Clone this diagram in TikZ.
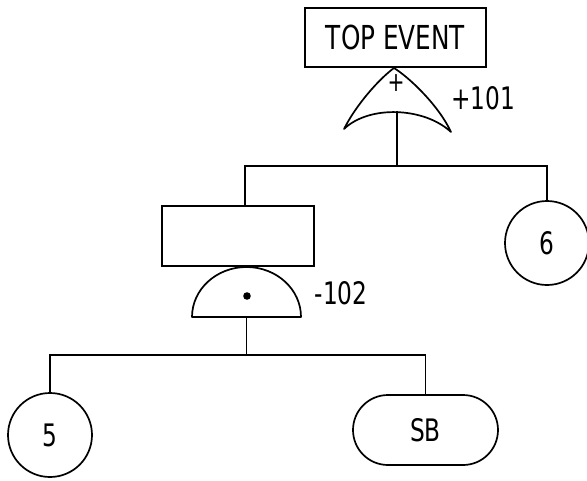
\documentclass[tikz,border=0pt]{standalone}
\usepackage{fontspec}
\setmainfont[FakeStretch=0.75]{DejaVu Sans}
\usetikzlibrary{calc}

\tikzset{
  orgate/.pic={
    \draw[gateline] (0,0) .. controls (-15,11) and (-38,37) .. (-50,61)
      .. controls (-25,37) and (30,39) .. (57,64)
      .. controls (45,38) and (16,10) .. (0,0);
    \node[font=\fontsize{27}{30}\selectfont] at (2,15) {+};
    \coordinate (-out) at (3,43);
  },
  andgate/.pic={
    \draw[gateline] (-54.5,0) arc[start angle=180,end angle=0,x radius=54.5,y radius=-50] -- cycle;
    \fill (0.5,-21) circle[radius=3.8];
    \coordinate (-out) at (0,0);
  }
}

\begin{document}
\begin{tikzpicture}[x=1pt, y=-1pt, line width=1.7pt,
  every node/.style={font=\fontsize{31}{36}\selectfont},
  gateline/.style={line width=1.7pt, line join=round},
  evbox/.style={draw, rectangle, minimum width=152pt, minimum height=60pt, inner sep=0pt},
  basic/.style={draw, circle, minimum size=84pt, inner sep=0pt},
  undev/.style={draw, rectangle, rounded corners=35pt, minimum width=145pt, minimum height=70pt, inner sep=0pt}]
\useasboundingbox (0,0) rectangle (587,480);

\node[evbox, minimum width=181pt, minimum height=59pt, font=\fontsize{33}{38}\selectfont] (top) at (395.5,37.5) {TOP EVENT};
\pic (or1) at (394,68) {orgate};
\node (lbl1) at (483,98) {+101};

\node[evbox] (mid) at (238,236) {};
\pic (and2) at (246.5,317) {andgate};
\node (lbl2) at (341,293) {-102};

\node[basic] (ev6) at (547,243) {6};
\node[basic] (ev5) at (50,435) {5};
\node[undev] (sb) at (425.5,430) {SB};

\draw (or1-out) -- ++(0,55) coordinate (j1);
\draw ([xshift=7pt]mid.north) |- (j1) -| (ev6.north);
\draw (and2-out) -- ++(0,38) coordinate (j2);
\draw (ev5.north) |- (j2) -| (sb.north);
\end{tikzpicture}
\end{document}
